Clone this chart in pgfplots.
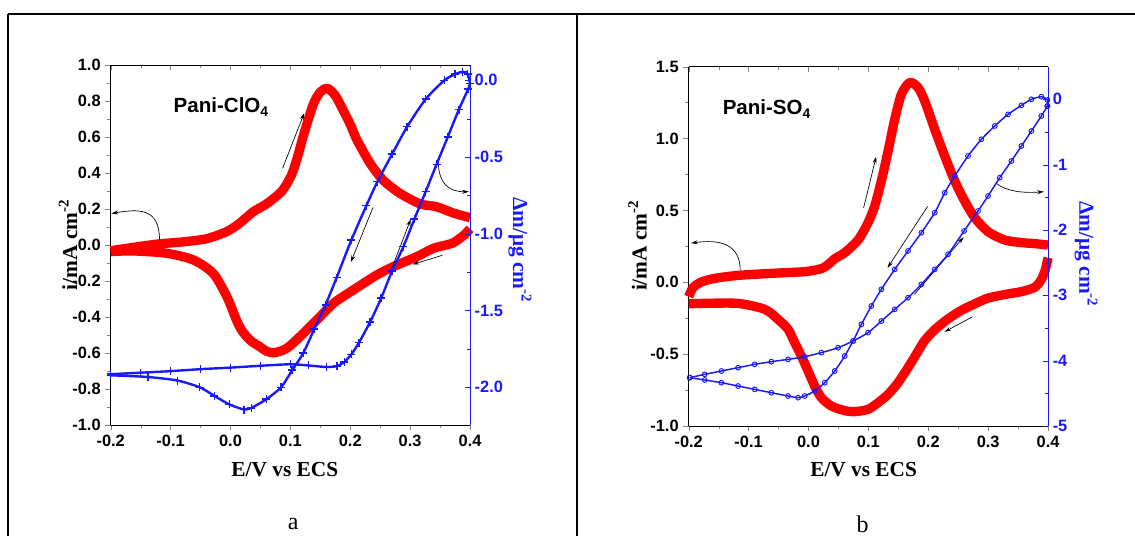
\documentclass[border=0pt]{standalone}
\usepackage{fontspec}
\setmainfont{Liberation Serif}
\newfontfamily\arial{Liberation Sans}
\usepackage{pgfplots}
\pgfplotsset{compat=1.18}
\usetikzlibrary{arrows.meta}
\definecolor{cvred}{RGB}{255,0,0}
\definecolor{qblue}{RGB}{25,25,255}
\tikzset{arr/.style={black, line width=0.5pt, -{Stealth[length=5pt,width=3pt]}}}
\pgfplotsset{
  base/.style={scale only axis, width=269.5pt, xmin=-0.2, xmax=0.4, clip=false,
    /pgf/number format/assume math mode=true,
    tick label style={font=\arial\bfseries\fontsize{12.3}{14}\selectfont},
    xtick={-0.2,-0.1,0,0.1,0.2,0.3,0.4}, minor x tick num=1,
    xticklabel style={/pgf/number format/.cd,fixed,fixed zerofill,precision=1},
    major tick length=4pt, minor tick length=2.5pt,
    label style={font=\bfseries\fontsize{16}{18}\selectfont},
  },
  leftax/.style={base, axis x line*=bottom, axis y line*=left, tick align=outside,
    axis line style={-}},
  rightax/.style={base, axis x line*=top, axis y line*=right, tick align=inside,
    axis line style={-}, xticklabels={},
    y axis line style={qblue}, ytick style={qblue}, yticklabel style={qblue},
    ylabel style={qblue}},
  redline/.style={cvred, line width=7pt, smooth, tension=0.45, line cap=butt, line join=round, mark=none},
  bluea/.style={qblue, line width=1.8pt, smooth, tension=0.4, mark=+, mark size=3pt, mark options={line width=1.1pt}},
  blueb/.style={qblue, line width=1.1pt, smooth, tension=0.4, mark=o, mark size=1.8pt, mark options={line width=0.7pt, fill=white}},
}
\begin{document}
\begin{tikzpicture}[x=0.75pt,y=-0.75pt]
\useasboundingbox (0,0) rectangle (1135,536);
\draw[line width=1.3pt] (8,14) -- (1135,14);
\draw[line width=1.3pt] (8,14) -- (8,536);
\draw[line width=1.3pt] (577.3,14) -- (577.3,536);
\node[font=\fontsize{18}{20}\selectfont] at (293.3,524) {a};
\node[font=\fontsize{18}{20}\selectfont] at (862.6,524) {b};

% ---------------- panel a ----------------
\begin{axis}[leftax, at={(83.03pt,-318.75pt)}, anchor=south west, height=270pt,
  ymin=-1, ymax=1, ytick={-1,-0.8,-0.6,-0.4,-0.2,0,0.2,0.4,0.6,0.8,1}, minor y tick num=1,
  yticklabel style={/pgf/number format/.cd,fixed,fixed zerofill,precision=1},
  xlabel={E/V vs ECS}, xlabel style={at={(axis description cs:0.4846,-0.1236)},anchor=center},
  ylabel={i/mA cm\textsuperscript{-2}}, ylabel style={at={(axis description cs:-0.1186,0.5)},anchor=center}]
\addplot[redline] coordinates {(-0.2,-0.032) (-0.16,-0.012) (-0.12,0.006) (-0.08,0.017) (-0.04,0.035)
 (-0.006,0.075) (0.015,0.12) (0.038,0.185) (0.06,0.228) (0.086,0.3) (0.102,0.39) (0.112,0.49)
 (0.122,0.61) (0.138,0.78) (0.15,0.85) (0.162,0.87) (0.175,0.83) (0.188,0.75) (0.2,0.67)
 (0.211,0.585) (0.233,0.455) (0.255,0.36) (0.283,0.287) (0.317,0.228) (0.344,0.213) (0.372,0.178) (0.4,0.152)};
\addplot[redline] coordinates {(0.4,0.09) (0.39,0.055) (0.38,0.03) (0.372,0.012) (0.36,0.0) (0.339,-0.018)
 (0.311,-0.065) (0.272,-0.12) (0.244,-0.167) (0.205,-0.25) (0.172,-0.324) (0.144,-0.417) (0.116,-0.509)
 (0.094,-0.574) (0.074,-0.598) (0.06,-0.59) (0.049,-0.565) (0.035,-0.535) (0.027,-0.509) (0.018,-0.47)
 (0.010,-0.417) (-0.006,-0.287) (-0.029,-0.157) (-0.062,-0.083) (-0.106,-0.046) (-0.162,-0.033) (-0.2,-0.036)};
\draw[arr] (axis cs:-0.1185,0.03) .. controls (axis cs:-0.1185,0.21) and (axis cs:-0.155,0.2) .. (axis cs:-0.199,0.175);
\draw[arr] (axis cs:0.087,0.426) -- (axis cs:0.123,0.732);
\draw[arr] (axis cs:0.238,0.209) -- (axis cs:0.201,-0.095);
\draw[arr] (axis cs:0.269,-0.133) -- (axis cs:0.301,0.143);
\draw[arr] (axis cs:0.354,-0.057) -- (axis cs:0.304,-0.108);
\draw[arr] (axis cs:0.347,0.467) .. controls (axis cs:0.347,0.34) and (axis cs:0.365,0.295) .. (axis cs:0.398,0.296);
\node[anchor=base west, font=\arial\bfseries\fontsize{15.4}{17}\selectfont] at (axis cs:-0.1026,0.735) {Pani-ClO\raisebox{-0.35ex}{\fontsize{10.5}{11}\selectfont 4}};
\end{axis}
\begin{axis}[rightax, at={(83.03pt,-318.75pt)}, anchor=south west, height=270pt,
  ymin=-2.246, ymax=0.1, ytick={-2,-1.5,-1,-0.5,0}, minor y tick num=1,
  yticklabel style={/pgf/number format/.cd,fixed,fixed zerofill,precision=1},
  ylabel={Δm/μg cm\textsuperscript{-2}}, ylabel style={at={(axis description cs:1.139,0.486)},anchor=center,rotate=180}]
\addplot[bluea] coordinates {(-0.2,-1.915) (-0.15,-1.905) (-0.1,-1.895) (-0.05,-1.882) (0.0,-1.872)
 (0.05,-1.86) (0.1,-1.85) (0.13,-1.858) (0.16,-1.868) (0.178,-1.862) (0.19,-1.835) (0.202,-1.785)
 (0.2144,-1.71) (0.233,-1.576) (0.2516,-1.419) (0.270,-1.241) (0.2887,-1.084) (0.307,-0.905)
 (0.3258,-0.726) (0.344,-0.548) (0.3628,-0.369) (0.3814,-0.19) (0.397,-0.056) (0.4,-0.02)};
\addplot[bluea] coordinates {(0.4,-0.02) (0.396,0.04) (0.3876,0.055) (0.375,0.04) (0.357,0.0) (0.3258,-0.123)
 (0.295,-0.302) (0.270,-0.48) (0.2454,-0.66) (0.227,-0.816) (0.202,-1.039) (0.1773,-1.285)
 (0.1587,-1.463) (0.140,-1.62) (0.1217,-1.776) (0.103,-1.889) (0.0846,-2.0) (0.06,-2.078)
 (0.035,-2.134) (0.0228,-2.145) (-0.002,-2.112) (-0.0268,-2.056) (-0.0515,-2.0) (-0.0886,-1.956)
 (-0.138,-1.933) (-0.2,-1.922)};
\end{axis}

% ---------------- panel b ----------------
\begin{axis}[leftax, at={(516.53pt,-319.5pt)}, anchor=south west, height=269.5pt,
  ymin=-1, ymax=1.5, ytick={-1,-0.5,0,0.5,1,1.5}, minor y tick num=1,
  yticklabel style={/pgf/number format/.cd,fixed,fixed zerofill,precision=1},
  xlabel={E/V vs ECS}, xlabel style={at={(axis description cs:0.4868,-0.1225)},anchor=center},
  ylabel={i/mA cm\textsuperscript{-2}}, ylabel style={at={(axis description cs:-0.1425,0.502)},anchor=center}]
\addplot[redline] coordinates {(-0.2,-0.1) (-0.1928,-0.037) (-0.1788,0.002) (-0.1566,0.027) (-0.1176,0.048)
 (-0.062,0.062) (-0.0063,0.074) (0.0215,0.095) (0.0354,0.132) (0.0438,0.164) (0.0605,0.206)
 (0.0828,0.294) (0.0995,0.415) (0.1106,0.531) (0.1217,0.705) (0.1329,0.913) (0.144,1.134)
 (0.1551,1.308) (0.169,1.39) (0.1829,1.355) (0.1941,1.261) (0.2108,1.064) (0.2275,0.878)
 (0.2442,0.705) (0.2608,0.565) (0.2776,0.449) (0.2998,0.352) (0.3277,0.294) (0.3555,0.276)
 (0.3778,0.269) (0.4,0.259)};
\addplot[redline] coordinates {(0.4,0.171) (0.3956,0.09) (0.3889,0.02) (0.3778,-0.035) (0.3555,-0.065)
 (0.3277,-0.085) (0.2998,-0.11) (0.2776,-0.15) (0.2553,-0.195) (0.233,-0.255) (0.2108,-0.33)
 (0.1941,-0.405) (0.1829,-0.48) (0.1662,-0.594) (0.1495,-0.699) (0.1329,-0.78) (0.1162,-0.838)
 (0.0995,-0.884) (0.0772,-0.9) (0.0605,-0.893) (0.0382,-0.861) (0.0215,-0.803) (0.0104,-0.722)
 (-0.0007,-0.617) (-0.0119,-0.513) (-0.023,-0.42) (-0.0341,-0.327) (-0.0508,-0.258)
 (-0.0731,-0.188) (-0.1176,-0.147) (-0.1788,-0.147) (-0.2,-0.15)};
\draw[arr] (axis cs:-0.114,0.085) .. controls (axis cs:-0.114,0.27) and (axis cs:-0.15,0.3) .. (axis cs:-0.196,0.272);
\draw[arr] (axis cs:0.092,0.517) -- (axis cs:0.113,0.874);
\draw[arr] (axis cs:0.199,0.529) -- (axis cs:0.132,0.1);
\draw[arr] (axis cs:0.177,-0.084) -- (axis cs:0.259,0.314);
\draw[arr] (axis cs:0.274,-0.24) -- (axis cs:0.227,-0.345);
\draw[arr] (axis cs:0.3136,0.689) .. controls (axis cs:0.33,0.63) and (axis cs:0.36,0.62) .. (axis cs:0.393,0.63);
\node[anchor=base west, font=\arial\bfseries\fontsize{15.4}{17}\selectfont] at (axis cs:-0.151,1.164) {Pani-SO\raisebox{-0.35ex}{\fontsize{10.5}{11}\selectfont 4}};
\end{axis}
\begin{axis}[rightax, at={(516.53pt,-319.5pt)}, anchor=south west, height=269.5pt,
  ymin=-5, ymax=0.5, ytick={-5,-4,-3,-2,-1,0}, minor y tick num=1,
  ylabel={Δm/μg cm\textsuperscript{-2}}, ylabel style={at={(axis description cs:1.106,0.478)},anchor=center,rotate=180}]
\addplot[blueb] coordinates {(-0.1983,-4.26) (-0.1733,-4.209) (-0.1455,-4.158) (-0.1176,-4.107)
 (-0.0898,-4.056) (-0.062,-4.015) (-0.0341,-3.98) (-0.0063,-3.939) (0.0215,-3.877) (0.0494,-3.801)
 (0.0744,-3.699) (0.0995,-3.571) (0.1217,-3.393) (0.144,-3.214) (0.1662,-3.036) (0.1885,-2.832)
 (0.2108,-2.602) (0.233,-2.372) (0.2598,-2.015) (0.2831,-1.709) (0.2998,-1.48) (0.3193,-1.199)
 (0.3388,-0.944) (0.3555,-0.714) (0.3722,-0.485) (0.3889,-0.255) (0.3989,-0.102)};
\addplot[blueb] coordinates {(0.3989,-0.102) (0.3989,-0.01) (0.3889,0.041) (0.3722,0.0) (0.3555,-0.092)
 (0.3332,-0.23) (0.311,-0.408) (0.2887,-0.612) (0.2664,-0.867) (0.2442,-1.173) (0.2275,-1.429)
 (0.2108,-1.735) (0.1885,-2.041) (0.1662,-2.321) (0.144,-2.602) (0.1217,-2.908) (0.105,-3.163)
 (0.0883,-3.444) (0.0744,-3.699) (0.0605,-3.929) (0.0438,-4.158) (0.0271,-4.337) (0.0104,-4.464)
 (-0.0063,-4.541) (-0.0174,-4.566) (-0.0341,-4.541) (-0.062,-4.49) (-0.0898,-4.439) (-0.1176,-4.388)
 (-0.1455,-4.337) (-0.1733,-4.296) (-0.1983,-4.26)};
\end{axis}
\end{tikzpicture}
\end{document}
